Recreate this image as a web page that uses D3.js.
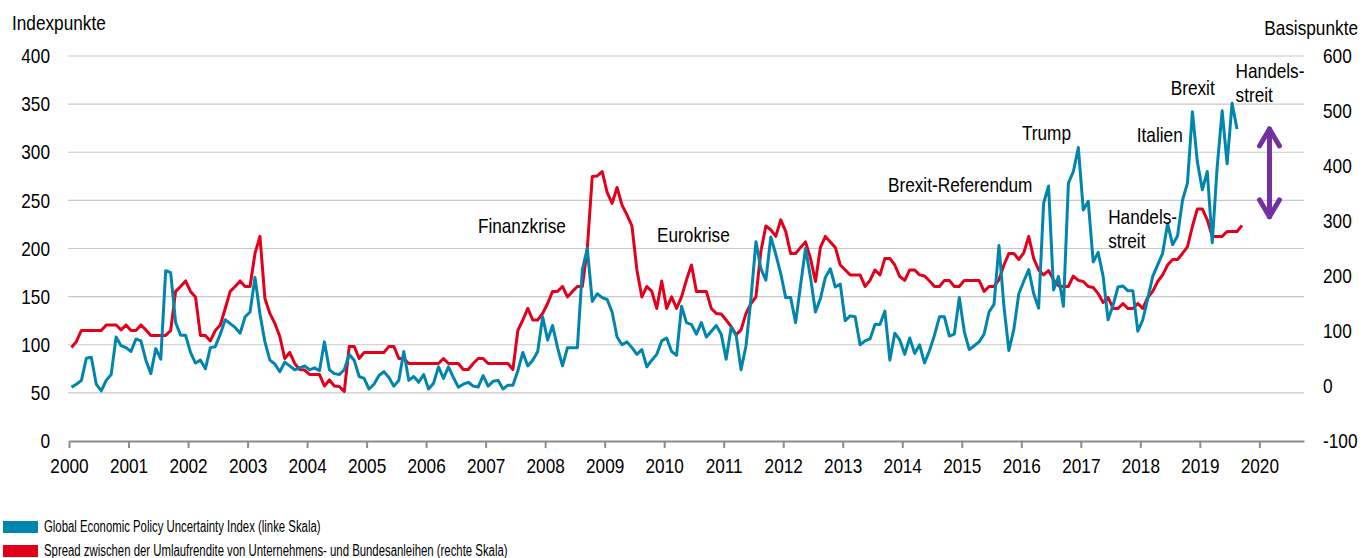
<!DOCTYPE html>
<html><head><meta charset="utf-8">
<script src="https://cdn.jsdelivr.net/npm/d3@7"></script>
<style>
html,body{margin:0;padding:0;background:#fff;}
svg text{font-family:"Liberation Sans",Arial,sans-serif;fill:#000;}
</style></head><body>
<svg id="chart" width="1365" height="558"></svg>
<script>
// ---- data (monthly, Jan 2000 onward) ----
const startYear = 2000;
const epu = [56,59,63,86,87,59,52,63,69,108,99,97,
93,106,104,84,70,96,85,177,175,123,110,110,
92,81,84,75,97,98,111,126,122,118,112,129,
134,170,132,103,84,80,72,82,78,74,76,78,
74,76,73,103,74,70,69,74,90,84,67,65,
54,59,68,72,66,57,63,93,63,67,61,69,
54,60,77,65,77,66,56,59,61,57,56,68,
57,62,63,54,58,58,73,92,78,84,93,129,
105,120,97,78,97,97,97,178,200,145,153,149,
147,134,108,100,103,97,90,95,77,84,90,104,
107,93,89,140,123,121,111,123,108,114,120,111,
85,118,110,74,99,148,207,179,167,212,194,174,
149,149,123,162,200,170,134,148,170,179,160,163,
125,130,129,100,104,106,121,121,135,84,112,105,
90,107,91,100,81,94,110,129,129,109,111,149,
114,95,99,103,111,134,142,203,140,94,116,153,
166,178,153,138,247,265,157,171,140,268,280,305,
240,249,186,196,171,126,141,160,161,156,156,114,
126,148,171,183,195,226,204,213,250,268,342,290,
261,280,206,285,343,288,351,324];
const spread = [70,81,101,101,101,101,101,111,111,111,102,111,
101,101,111,102,92,92,92,92,101,172,181,191,
172,162,92,92,82,101,111,141,172,181,191,181,
181,241,272,159,132,114,90,50,61,41,30,29,
21,21,21,0,11,0,-1,-10,72,72,50,61,
61,61,61,61,72,72,50,50,41,41,41,41,
41,41,41,50,41,41,41,30,30,41,50,50,
41,41,41,41,41,30,101,120,141,120,120,132,
150,172,172,181,162,172,181,181,250,381,382,390,
352,332,361,329,311,291,211,162,181,172,141,191,
141,162,141,162,193,220,172,172,172,141,132,131,
120,108,93,102,132,150,162,245,291,284,272,302,
281,241,241,252,262,232,190,252,272,262,252,220,
211,202,202,202,181,192,211,202,232,232,220,199,
192,211,211,202,200,191,181,181,192,192,181,181,
192,192,192,192,172,181,181,193,220,241,241,230,
242,272,232,211,202,210,193,182,181,181,200,192,
190,181,179,168,152,161,141,141,150,141,141,150,
141,161,172,190,202,220,230,230,241,253,290,322,
322,302,272,272,272,281,281,281,292];
const xTicks = d3.range(2000, 2021);
const leftTicks = [0,50,100,150,200,250,300,350,400];
const rightTicks = [-100,0,100,200,300,400,500,600];
const seriesNames = ["Global Economic Policy Uncertainty Index (linke Skala)",
  "Spread zwischen der Umlaufrendite von Unternehmens- und Bundesanleihen (rechte Skala)"];
const seriesColors = ["#0086AC", "#E3001B"];
// annotations: [text lines, year position, left-axis value of first baseline]
const annotations = [
  [["Finanzkrise"], 2006.87, 216],
  [["Eurokrise"], 2009.88, 207],
  [["Brexit-Referendum"], 2013.76, 259],
  [["Trump"], 2016.01, 313],
  [["Italien"], 2017.94, 311],
  [["Brexit"], 2018.51, 360],
  [["Handels-","streit"], 2017.46, 225],
  [["Handels-","streit"], 2019.6, 377]
];
const arrowAt = {year: 2020.17, top: 471, bottom: 304}; // right-axis values

// ---- layout ----
const svg = d3.select("#chart");
const x = d3.scaleLinear().domain([2000, 2020.75]).range([69, 1304]);
const yL = d3.scaleLinear().domain([0, 400]).range([441, 56]);
const yR = d3.scaleLinear().domain([-100, 600]).range([441, 56]);
const FS = 21, NARROW = 0.82, LEGEND_NARROW = 0.71;

// gridlines
svg.append("g").selectAll("line").data(leftTicks.filter(d => d > 0)).join("line")
  .attr("x1", 68).attr("x2", x.range()[1])
  .attr("y1", d => yL(d)).attr("y2", d => yL(d))
  .attr("stroke", "#c8c8c8").attr("stroke-width", 1.2);

// x axis
const xAxis = d3.axisBottom(x).tickValues(xTicks).tickFormat(d => String(d))
  .tickSizeInner(7).tickSizeOuter(0).tickPadding(10);
const gx = svg.append("g").attr("transform", `translate(0,${yL(0)})`).call(xAxis);
gx.select(".domain").attr("stroke", "#8c8c8c").attr("stroke-width", 2);
gx.selectAll(".tick line").attr("stroke", "#8c8c8c").attr("stroke-width", 2);
gx.selectAll("text").style("font-size", FS + "px");

// left axis
const gl = svg.append("g").attr("transform", "translate(50,0)")
  .call(d3.axisLeft(yL).tickValues(leftTicks).tickFormat(d => String(d)).tickSize(0).tickPadding(0));
gl.select(".domain").remove();
gl.selectAll("text").style("font-size", FS + "px");

// right axis
const gr = svg.append("g").attr("transform", "translate(1323,0)")
  .call(d3.axisRight(yR).tickValues(rightTicks).tickFormat(d => String(d)).tickSize(0).tickPadding(0));
gr.select(".domain").remove();
gr.selectAll("text").style("font-size", FS + "px");

// axis titles
svg.append("text").attr("x", 12).attr("y", 30).style("font-size", FS + "px").text("Indexpunkte");
svg.append("text").attr("x", 1358).attr("y", 35).attr("text-anchor", "end").style("font-size", FS + "px").text("Basispunkte");

// lines
const mx = i => x(startYear + (i + 0.5) / 12);
const lineL = d3.line().x((d, i) => mx(i)).y(d => yL(d));
const lineR = d3.line().x((d, i) => mx(i)).y(d => yR(d));
svg.append("path").datum(spread).attr("d", lineR).attr("fill", "none")
  .attr("stroke", seriesColors[1]).attr("stroke-width", 3).attr("stroke-linejoin", "round");
svg.append("path").datum(epu).attr("d", lineL).attr("fill", "none")
  .attr("stroke", seriesColors[0]).attr("stroke-width", 3).attr("stroke-linejoin", "round");

// annotations
annotations.forEach(([lines, yr, v]) => {
  lines.forEach((l, k) => svg.append("text").attr("x", x(yr)).attr("y", yL(v) + k * 24)
    .style("font-size", FS + "px").text(l));
});

// purple double arrow
const ax = x(arrowAt.year), at = yR(arrowAt.top), ab = yR(arrowAt.bottom);
const arrowG = svg.append("g").attr("stroke", "#7330A0").attr("stroke-width", 5)
  .attr("fill", "none").attr("stroke-linecap", "round").attr("stroke-linejoin", "round");
arrowG.append("line").attr("x1", ax).attr("x2", ax).attr("y1", at + 2).attr("y2", ab - 2);
arrowG.append("polyline").attr("points", `${ax-10},${at+19} ${ax},${at+2} ${ax+10},${at+19}`);
arrowG.append("polyline").attr("points", `${ax-10},${ab-19} ${ax},${ab-2} ${ax+10},${ab-19}`);

// emulate a narrow typeface: compress every text horizontally
function condense(sel, f) {
  sel.each(function() {
    const w = this.getComputedTextLength();
    if (w > 0) {
      this.setAttribute("textLength", (w * f).toFixed(1));
      this.setAttribute("lengthAdjust", "spacingAndGlyphs");
    }
  });
}
condense(svg.selectAll("text"), NARROW);

// legend
const lg = svg.append("g");
seriesNames.forEach((n, k) => {
  lg.append("rect").attr("x", 3).attr("y", 521 + k * 24).attr("width", 35).attr("height", 12)
    .attr("fill", seriesColors[k]);
  lg.append("text").attr("x", 44).attr("y", 532 + k * 24).style("font-size", "16px").text(n);
});
condense(lg.selectAll("text"), LEGEND_NARROW);
</script>
</body></html>
